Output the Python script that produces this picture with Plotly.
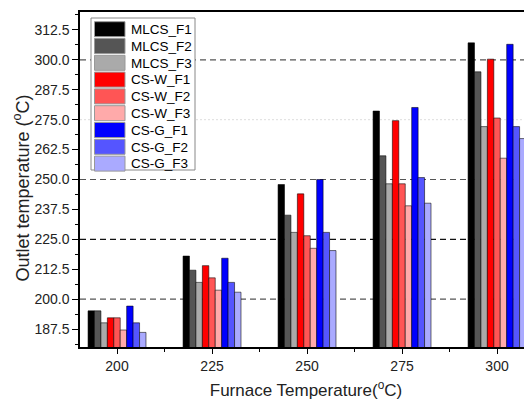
import plotly.graph_objects as go

furnace_temps = [200, 225, 250, 275, 300]
series_names = ["MLCS_F1", "MLCS_F2", "MLCS_F3",
                "CS-W_F1", "CS-W_F2", "CS-W_F3",
                "CS-G_F1", "CS-G_F2", "CS-G_F3"]
mlcs_f1 = [195.1, 218.0, 247.9, 278.6, 307.1]
mlcs_f2 = [195.1, 212.1, 235.1, 259.9, 295.0]
mlcs_f3 = [190.1, 207.0, 227.9, 248.2, 272.1]
csw_f1 = [192.2, 214.0, 244.0, 274.6, 300.3]
csw_f2 = [192.2, 208.9, 226.5, 248.2, 275.7]
csw_f3 = [187.1, 203.75, 221.25, 239.0, 258.9]
csg_f1 = [197.1, 217.1, 250.0, 280.1, 306.5]
csg_f2 = [190.1, 207.0, 227.9, 250.8, 272.1]
csg_f3 = [186.1, 202.9, 220.3, 240.1, 267.1]
series_values = [mlcs_f1, mlcs_f2, mlcs_f3, csw_f1, csw_f2, csw_f3, csg_f1, csg_f2, csg_f3]
colors = ["#000000", "#555555", "#aaaaaa",
          "#ff0000", "#ff5555", "#ffaaaa",
          "#0000ff", "#5555ff", "#aaaaff"]
y_ticks = [187.5, 200, 212.5, 225, 237.5, 250, 262.5, 275, 287.5, 300, 312.5]
y_ticktext = ["187.5", "200.0", "212.5", "225.0", "237.5", "250.0", "262.5",
              "275.0", "287.5", "300.0", "312.5"]
grid_gray = [200, 250, 300]
grid_black = [225]
grid_light = [275]

FONT = "Arial, Liberation Sans, sans-serif"
OX, OY = 8, 8            # default page body margin
W, H = 524, 393
ML, MR, MT, MB = 72, 0, 4, 54
PW, PH = W - ML - MR, H - MT - MB

fig = go.Figure()
for name, vals, col in zip(series_names, series_values, colors):
    fig.add_trace(go.Bar(
        x=furnace_temps, y=vals, name=name,
        marker=dict(color=col, line=dict(color="rgba(0,0,0,0.55)", width=1)),
        showlegend=False,
    ))

shapes = []
for g in grid_gray:
    shapes.append(dict(type="line", xref="paper", yref="y", x0=0, x1=1, y0=g, y1=g,
                       line=dict(color="#555555", width=1.2, dash="6px,4px"), layer="below"))
for g in grid_black:
    shapes.append(dict(type="line", xref="paper", yref="y", x0=0, x1=1, y0=g, y1=g,
                       line=dict(color="#111111", width=1.2, dash="6px,4px"), layer="below"))
for g in grid_light:
    shapes.append(dict(type="line", xref="paper", yref="y", x0=0, x1=1, y0=g, y1=g,
                       line=dict(color="#dddddd", width=1, dash="2px,2px"), layer="below"))


def px2paper_x(px):
    return (px - OX - ML) / PW


def px2paper_y(py):
    return (OY + H - MB - py) / PH


annotations = []
shapes.append(dict(type="rect", xref="paper", yref="paper",
                   x0=px2paper_x(91), x1=px2paper_x(195),
                   y0=px2paper_y(170), y1=px2paper_y(18),
                   fillcolor="white", line=dict(color="#888888", width=1), layer="above"))
row_top = 21.7
pitch = 16.8
for i, (name, col) in enumerate(zip(series_names, colors)):
    t = row_top + i * pitch
    shapes.append(dict(type="rect", xref="paper", yref="paper",
                       x0=px2paper_x(94.5), x1=px2paper_x(125),
                       y0=px2paper_y(t + 15), y1=px2paper_y(t),
                       fillcolor=col, line=dict(color="#999999", width=1), layer="above"))
    annotations.append(dict(xref="paper", yref="paper", x=px2paper_x(128.5),
                            y=px2paper_y(t + 7.8), text=name, showarrow=False,
                            xanchor="left", yanchor="middle",
                            font=dict(family=FONT, size=13.5, color="#000000")))

# y-axis title
annotations.append(dict(xref="paper", yref="paper", x=px2paper_x(8), y=px2paper_y(188),
                        text="Outlet temperature (<sup>o</sup>C)", showarrow=False,
                        textangle=-90, xanchor="left", yanchor="middle",
                        font=dict(family=FONT, size=18, color="#222222")))

fig.update_layout(
    width=W, height=H,
    margin=dict(l=ML, r=MR, t=MT, b=MB),
    paper_bgcolor="white", plot_bgcolor="white",
    barmode="group", bargap=0.39, bargroupgap=0,
    font=dict(family=FONT, size=14, color="#222222"),
    shapes=shapes, annotations=annotations,
    xaxis=dict(
        range=[190.26, 309.2], tickvals=furnace_temps, ticktext=[str(v) for v in furnace_temps],
        showline=True, linecolor="#000000", linewidth=1.5, mirror=True,
        ticks="outside", ticklen=5, tickwidth=1.2, tickcolor="#000000",
        minor=dict(tickvals=[212.5, 237.5, 262.5, 287.5], ticks="outside", ticklen=3,
                   tickcolor="#000000", tickwidth=1),
        showgrid=False, zeroline=False, automargin=False,
        tickfont=dict(family=FONT, size=14, color="#222222"),
        title=dict(text="Furnace Temperature(<sup>o</sup>C)", standoff=12,
                   font=dict(family=FONT, size=17, color="#222222")),
    ),
    yaxis=dict(
        range=[180, 320], tickvals=y_ticks, ticktext=y_ticktext,
        showline=True, linecolor="#000000", linewidth=1.5, mirror=False,
        ticks="outside", ticklen=6, tickwidth=1.2, tickcolor="#000000",
        minor=dict(dtick=6.25, tick0=181.25, ticks="outside", ticklen=3,
                   tickcolor="#000000", tickwidth=1),
        showgrid=False, zeroline=False, automargin=False,
        tickfont=dict(family=FONT, size=14, color="#222222"),
    ),
)

fig.write_html("out.html")
